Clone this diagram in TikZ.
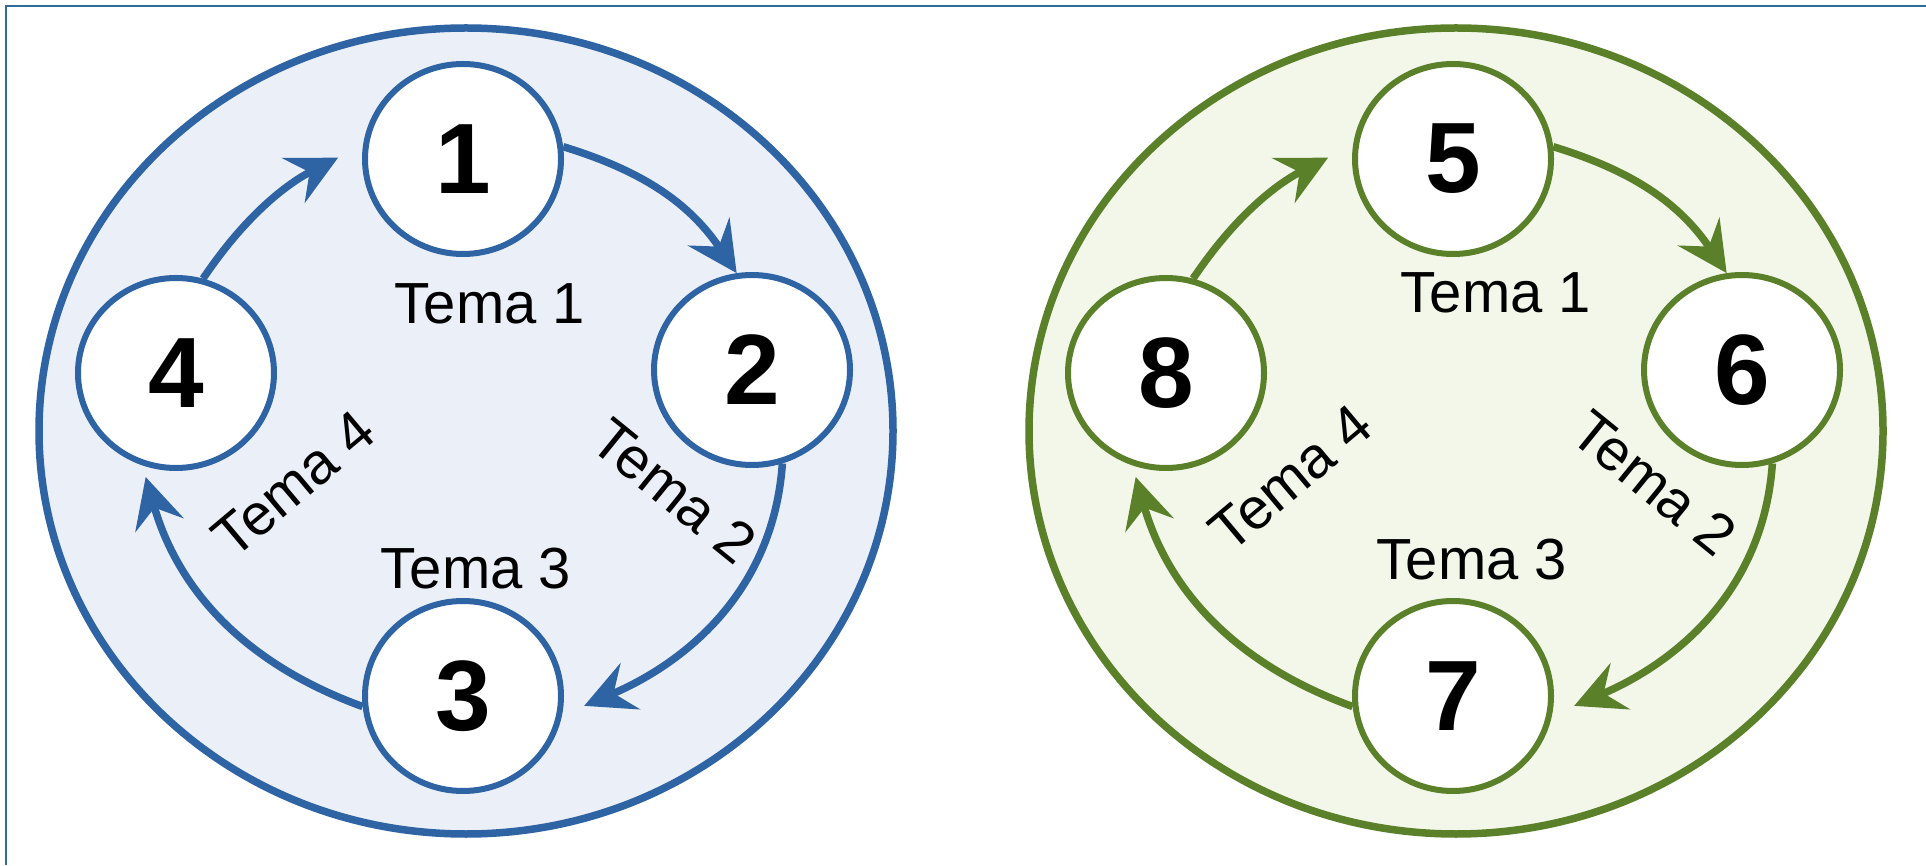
\documentclass[tikz,border=0pt]{standalone}
\usepackage{fontspec}
\setmainfont{Liberation Sans}
\usetikzlibrary{arrows.meta,shapes.geometric}
\definecolor{bl}{HTML}{2E63A4}
\definecolor{blfill}{HTML}{EBF0F8}
\definecolor{gr}{HTML}{5A802A}
\definecolor{grfill}{HTML}{F3F7EA}
\definecolor{framec}{HTML}{2E6E96}
\begin{document}
\begin{tikzpicture}[x=1pt,y=1pt,
  num/.style={ellipse, draw, fill=white, line width=6pt, minimum width=196pt, minimum height=190pt, inner sep=0pt, font=\fontsize{100}{100}\selectfont\bfseries},
  tema/.style={font=\fontsize{58}{62}\selectfont, inner sep=0pt},
  arr/.style={line width=7.5pt, -{Stealth[length=50pt,width=50pt,inset=18pt]}},
  outerring/.style={line width=7.5pt}]
\useasboundingbox (0,0) rectangle (1926,865);
\fill[white] (0,0) rectangle (1926,865);
\draw[framec, line width=2.5pt] (6,0) -- (6,859) -- (1926,859);
% left diagram
\draw[outerring, bl, fill=blfill] (466,434) ellipse [x radius=427, y radius=403];
\node[num, draw=bl] (n1) at (463,706) {1};
\node[num, draw=bl] (n2) at (752,495) {2};
\node[num, draw=bl] (n3) at (463,169) {3};
\node[num, draw=bl] (n4) at (176,492) {4};
\draw[arr, bl] (n1.7) to[out=-17, in=124] (n2.99);
\draw[arr, bl, shorten >=24pt] (n2.-72) to[out=-94, in=23] (n3.-11);
\draw[arr, bl, shorten >=12pt] (n3.186) to[out=160, in=-74] (n4.250);
\draw[arr, bl, shorten >=28pt] (n4.74) to[out=56, in=207] (n1.172);
\node[tema, anchor=base] (t1) at (490,541) {Tema 1};
\node[tema, anchor=base] (t3) at (476,276) {Tema 3};
\node[tema, rotate=40] (t4) at (294,381) {Tema 4};
\node[tema, rotate=-39] (t2) at (674,374) {Tema 2};
% right diagram
\draw[outerring, gr, fill=grfill] (1456,434) ellipse [x radius=427, y radius=403];
\node[num, draw=gr] (n5) at (1453,706) {5};
\node[num, draw=gr] (n6) at (1742,495) {6};
\node[num, draw=gr] (n7) at (1453,169) {7};
\node[num, draw=gr] (n8) at (1166,492) {8};
\draw[arr, gr] (n5.7) to[out=-17, in=124] (n6.99);
\draw[arr, gr, shorten >=24pt] (n6.-72) to[out=-94, in=23] (n7.-11);
\draw[arr, gr, shorten >=12pt] (n7.186) to[out=160, in=-74] (n8.250);
\draw[arr, gr, shorten >=28pt] (n8.74) to[out=56, in=207] (n5.172);
\node[tema, anchor=base] (t5) at (1496,552) {Tema 1};
\node[tema, anchor=base] (t7) at (1472,285) {Tema 3};
\node[tema, rotate=40] (t8) at (1291,387) {Tema 4};
\node[tema, rotate=-39] (t6) at (1654,382) {Tema 2};
\end{tikzpicture}
\end{document}
